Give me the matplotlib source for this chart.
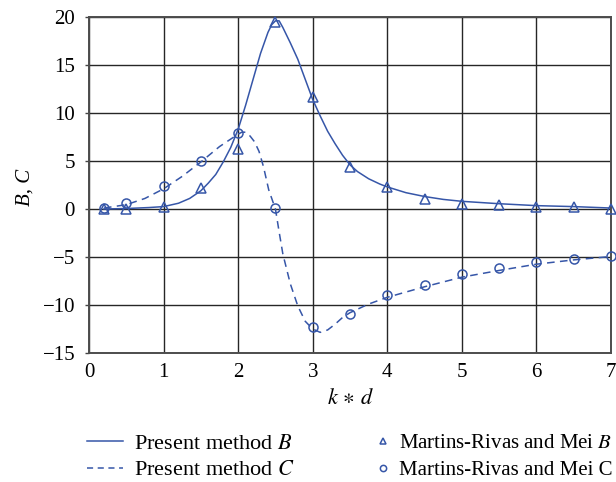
import matplotlib
matplotlib.use("Agg")
import matplotlib.pyplot as plt
from matplotlib.lines import Line2D

plt.rcParams['font.family'] = ['Liberation Serif', 'DejaVu Serif']
plt.rcParams['mathtext.fontset'] = 'stix'

# Present method curves
B_x = [0.2, 0.5, 0.8, 1.0, 1.2, 1.35, 1.5, 1.6, 1.7, 1.8, 1.9, 2.0, 2.1, 2.2, 2.3, 2.4,
       2.45, 2.5, 2.55, 2.6, 2.7, 2.8, 2.9, 3.0, 3.1, 3.2, 3.3, 3.4, 3.5, 3.6, 3.75,
       3.9, 4.0, 4.25, 4.5, 4.75, 5.0, 5.5, 6.0, 6.5, 7.0]
B_y = [0.0, 0.05, 0.15, 0.25, 0.6, 1.1, 1.9, 2.7, 3.6, 4.9, 6.4, 8.3, 10.8, 13.5, 16.2, 18.4,
       19.2, 19.6, 19.6, 18.9, 17.3, 15.6, 13.5, 11.4, 9.7, 8.1, 6.8, 5.6, 4.6, 3.9, 3.15,
       2.6, 2.3, 1.7, 1.3, 1.0, 0.8, 0.55, 0.35, 0.25, 0.1]

C_x = [0.2, 0.5, 0.75, 1.0, 1.25, 1.5, 1.75, 2.0, 2.05, 2.1, 2.16, 2.22, 2.28, 2.34, 2.41,
       2.5, 2.55, 2.6, 2.7, 2.8, 2.9, 3.0, 3.1, 3.2, 3.3, 3.4, 3.5, 3.75, 4.0, 4.5, 5.0,
       5.5, 6.0, 6.5, 7.0]
C_y = [0.1, 0.45, 1.1, 2.1, 3.4, 4.9, 6.5, 7.8, 8.0, 8.0, 7.6, 7.0, 6.0, 4.4, 2.0,
       0.0, -2.4, -4.7, -7.8, -10.1, -11.7, -12.5, -12.85, -12.6, -12.0, -11.3, -10.8, -9.9, -9.2, -8.1, -7.1,
       -6.4, -5.75, -5.3, -4.95]

# Martins-Rivas and Mei data points
M_x = [0.2, 0.5, 1.0, 1.5, 2.0, 2.5, 3.0, 3.5, 4.0, 4.5, 5.0, 5.5, 6.0, 6.5, 7.0]
M_B = [0.0, 0.0, 0.2, 2.2, 6.3, 19.5, 11.7, 4.4, 2.3, 1.05, 0.5, 0.4, 0.25, 0.2, 0.05]
M_C = [0.1, 0.6, 2.4, 5.0, 7.9, 0.1, -12.3, -10.9, -9.0, -7.9, -6.8, -6.1, -5.55, -5.2, -4.9]

x_ticks = [0, 1, 2, 3, 4, 5, 6, 7]
y_ticks = [-15, -10, -5, 0, 5, 10, 15, 20]

blue = '#3656a8'

fig = plt.figure(figsize=(6.16, 4.82), dpi=100)
ax = fig.add_axes([89/616, 1-353/482, 522/616, 336/482])

ax.plot(B_x, B_y, '-', color=blue, lw=1.1)
ax.plot(C_x, C_y, color=blue, lw=1.1, dashes=(5, 3.5))
ax.plot(M_x, M_B, '^', ms=6.5, mfc='none', mec=blue, mew=1.1, clip_on=False, zorder=5)
ax.plot(M_x, M_C, 'o', ms=6.5, mfc='none', mec=blue, mew=1.1, clip_on=False, zorder=5)

ax.set_xlim(0, 7)
ax.set_ylim(-15, 20)
ax.set_xticks(x_ticks)
ax.set_yticks(y_ticks)
ax.set_yticklabels([str(v).replace('-', '\u2212') for v in y_ticks])
ax.grid(True, color='#262626', lw=1.0)
ax.set_axisbelow(True)
for s in ax.spines.values():
    s.set_color('#4d4d4d')
    s.set_linewidth(1.4)
ax.tick_params(axis='y', direction='out', length=3, width=1, color='#444444',
               pad=7, labelsize=15)
ax.tick_params(axis='x', length=0, pad=7, labelsize=15)

fig.text(25/616, 1-187/482, 'B, C', rotation=90, ha='center', va='center',
         fontsize=15, style='italic')
fig.text(351/616, 1-399/482, r'$k\,\ast\,d$', ha='center', va='center', fontsize=16)

h1 = [Line2D([], [], color=blue, lw=1.1),
      Line2D([], [], color=blue, lw=1.1, dashes=(4, 3))]
leg1 = fig.legend(h1, ['Present method $B$', 'Present method $C$'],
                  loc='center left', bbox_to_anchor=(87/616, 1-457/482),
                  frameon=False, fontsize=16, handlelength=1.62, handletextpad=0.5,
                  borderpad=0, borderaxespad=0, labelspacing=0.25)
h2 = [Line2D([], [], ls='none', marker='^', ms=5, mfc='none', mec=blue, mew=1.1),
      Line2D([], [], ls='none', marker='o', ms=4.5, mfc='none', mec=blue, mew=1.1)]
leg2 = fig.legend(h2, ['Martins-Rivas and Mei $B$', 'Martins-Rivas and Mei C'],
                  loc='center left', bbox_to_anchor=(376/616, 1-457/482),
                  frameon=False, fontsize=15, handlelength=0.65, handletextpad=0.45,
                  borderpad=0, borderaxespad=0, labelspacing=0.35)

fig.savefig('out.png', dpi=100)
